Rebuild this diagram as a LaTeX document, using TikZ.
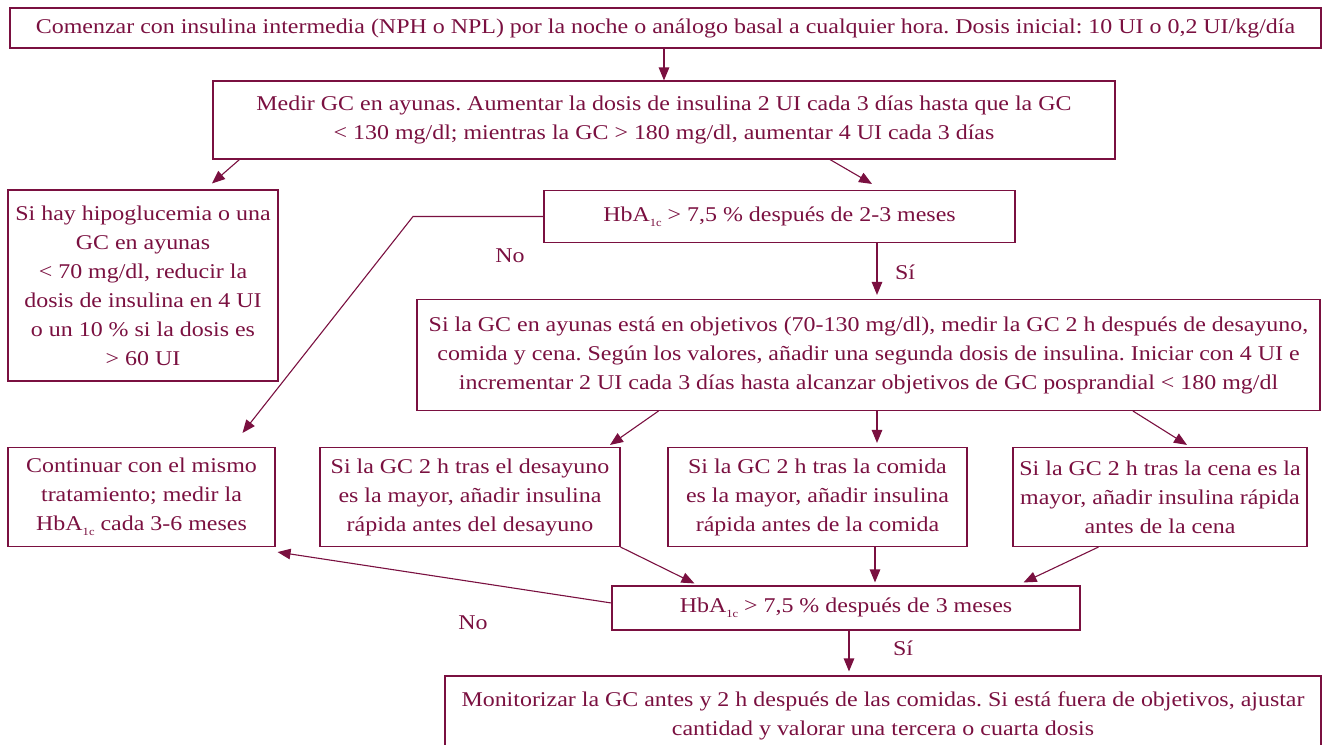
\documentclass[tikz,border=0pt]{standalone}
\usepackage{fontspec}
\setmainfont{Liberation Serif}[FakeStretch=1.14]
\usetikzlibrary{arrows.meta,calc}
\definecolor{mar}{RGB}{122,16,64}
\newcommand{\hba}{HbA\raisebox{-5pt}{\fontsize{11}{11}\selectfont 1c}}
\frenchspacing
\tikzset{
  box/.style={draw=mar, line width=1.1pt, text=mar, align=center, inner sep=0pt, font=\fontsize{21}{29}\selectfont},
  conn/.style={draw=mar, line width=1.1pt, -{Triangle[length=13pt,width=10.5pt]}},
  lbl/.style={text=mar, font=\fontsize{21}{29}\selectfont}
}
\begin{document}
\begin{tikzpicture}[x=1pt,y=-1pt]
\useasboundingbox (0,0) rectangle (1322,744);
\clip (0,0) rectangle (1322,744);
\node[box, minimum width=1311pt, minimum height=40pt] (b1) at (665.5,28) {Comenzar con insulina intermedia (NPH o NPL) por la noche o análogo basal a cualquier hora. Dosis inicial: 10 UI o 0,2 UI/kg/día};
\node[box, minimum width=902pt, minimum height=78pt] (b2) at (664,120) {Medir GC en ayunas. Aumentar la dosis de insulina 2 UI cada 3 días hasta que la GC\\ < 130 mg/dl; mientras la GC > 180 mg/dl, aumentar 4 UI cada 3 días};
\node[box, minimum width=270pt, minimum height=191pt] (b3) at (143,285.5) {Si hay hipoglucemia o una\\ GC en ayunas\\ < 70 mg/dl, reducir la\\ dosis de insulina en 4 UI\\ o un 10 \% si la dosis es\\ > 60 UI};
\node[box, minimum width=471pt, minimum height=52pt] (h1) at (779.5,216.5) {\hba{} > 7,5 \% después de 2-3 meses};
\node[box, minimum width=903pt, minimum height=111pt] (big) at (868.5,355) {Si la GC en ayunas está en objetivos (70-130 mg/dl), medir la GC 2 h después de desayuno,\\ comida y cena. Según los valores, añadir una segunda dosis de insulina. Iniciar con 4 UI e\\ incrementar 2 UI cada 3 días hasta alcanzar objetivos de GC posprandial < 180 mg/dl};
\node[box, minimum width=267pt, minimum height=99pt] (c1) at (141.5,497) {Continuar con el mismo\\ tratamiento; medir la\\ \hba{} cada 3-6 meses};
\node[box, minimum width=300pt, minimum height=99pt] (d1) at (470,497) {Si la GC 2 h tras el desayuno\\ es la mayor, añadir insulina\\ rápida antes del desayuno};
\node[box, minimum width=299pt, minimum height=99pt] (d2) at (817.5,497) {Si la GC 2 h tras la comida\\ es la mayor, añadir insulina\\ rápida antes de la comida};
\node[box, minimum width=294pt, minimum height=99pt] (d3) at (1160,497) {Si la GC 2 h tras la cena es la\\ mayor, añadir insulina rápida\\ antes de la cena};
\node[box, minimum width=468pt, minimum height=44pt] (h2) at (846,608) {\hba{} > 7,5 \% después de 3 meses};
\node[box, minimum width=876pt, minimum height=80pt] (bot) at (883,716) {Monitorizar la GC antes y 2 h después de las comidas. Si está fuera de objetivos, ajustar\\ cantidad y valorar una tercera o cuarta dosis};
% connectors
\draw[conn] (b2.north |- b1.south) -- (b2.north);
\draw[conn] ($(b2.south west)+(27,0)$) -- ($(b3.north)+(69,-6)$);
\draw[conn] ($(b2.south)+(166,0)$) -- ($(h1.north)+(92.5,-6)$);
\coordinate (k1) at (413,216.5);
\draw[conn] (h1.west) -- (k1) -- ($(c1.north)+(101,-14)$);
\draw[conn] ($(h1.south)+(97.5,0)$) -- ($(big.north)+(8.5,-4)$);
\draw[conn] ($(big.south west)+(242,0)$) -- ($(d1.north)+(140,-2)$);
\draw[conn] ($(big.south)+(8.5,0)$) -- ($(d2.north)+(59.5,-4)$);
\draw[conn] ($(big.south)+(264.5,0)$) -- ($(d3.north)+(27,-2)$);
\draw[conn] ($(d1.south east)+(0,0)$) -- ($(h2.north west)+(83,-2)$);
\draw[conn] ($(d2.south)+(57.5,0)$) -- ($(h2.north)+(29,-3)$);
\draw[conn] ($(d3.south west)+(86,0)$) -- ($(h2.north east)+(-57,-3)$);
\draw[conn] ($(h2.west)+(0,-5)$) -- ($(c1.south east)+(2,5)$);
\draw[conn] ($(h2.south)+(3,0)$) -- ($(bot.north)+(-34,-4)$);
% labels
\node[lbl] (no1) at (510,256) {No};
\node[lbl] (si1) at (905,272) {Sí};
\node[lbl] (no2) at (473,623) {No};
\node[lbl] (si2) at (903,648) {Sí};
\end{tikzpicture}
\end{document}
